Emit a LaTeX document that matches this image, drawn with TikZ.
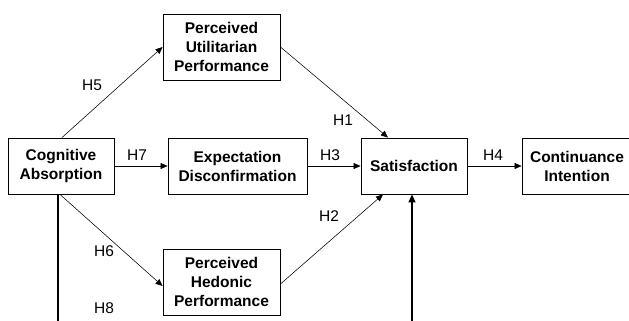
\documentclass[tikz,border=0pt]{standalone}
\usepackage{fontspec}
\setmainfont{Liberation Sans}
\usetikzlibrary{arrows.meta}
\begin{document}
\begin{tikzpicture}[x=1pt,y=-1pt,
  box/.style={draw, line width=0.9pt, align=center, font=\fontsize{15.5}{19}\selectfont\bfseries, inner sep=0pt},
  conn/.style={line width=0.55pt, -{Triangle[length=7pt,width=6pt]}},
  thick conn/.style={line width=1.4pt},
  lab/.style={font=\fontsize{15.5}{19}\selectfont, inner sep=0pt}]
\useasboundingbox (0,0) rectangle (629,321);
\node[box, minimum width=117pt, minimum height=66pt] (pu) at (221.5,47) {Perceived\\Utilitarian\\Performance};
\node[box, minimum width=106pt, minimum height=56pt] (ca) at (61,166) {Cognitive\\Absorption};
\node[box, minimum width=139pt, minimum height=56pt] (ed) at (237.5,166) {Expectation\\Disconfirmation};
\node[box, minimum width=106pt, minimum height=56pt] (sat) at (414,166) {Satisfaction};
\node[box, minimum width=110pt, minimum height=56pt] (ci) at (577,166) {Continuance\\Intention};
\node[box, minimum width=117pt, minimum height=66pt] (ph) at (221.5,282) {Perceived\\Hedonic\\Performance};

\coordinate (bl) at (58,321);
\coordinate (br) at (412,321);

\draw[conn] (ca.north) ++(1,0) -- (pu.west);
\draw[conn] (pu.east) -- ([xshift=-26pt]sat.north);
\draw[conn] (ca.east) -- (ed.west);
\draw[conn] (ed.east) -- (sat.west);
\draw[conn] (sat.east) -- (ci.west);
\draw[conn] ([xshift=-1pt]ca.south) -- ([yshift=-4pt]ph.west);
\draw[conn] ([yshift=-2pt]ph.east) -- ([xshift=-31pt]sat.south);
\draw[thick conn] (bl |- ca.south) -- (bl);
\draw[thick conn, -{Triangle[length=8pt,width=7pt]}] (br) -- (br |- sat.south);

\node[lab] (h5) at (92,85) {H5};
\node[lab] (h1) at (343,120) {H1};
\node[lab] (h7) at (137,155) {H7};
\node[lab] (h3) at (330,155) {H3};
\node[lab] (h4) at (493,155) {H4};
\node[lab] (h2) at (329,216) {H2};
\node[lab] (h6) at (104,251) {H6};
\node[lab] (h8) at (104,308) {H8};
\end{tikzpicture}
\end{document}
